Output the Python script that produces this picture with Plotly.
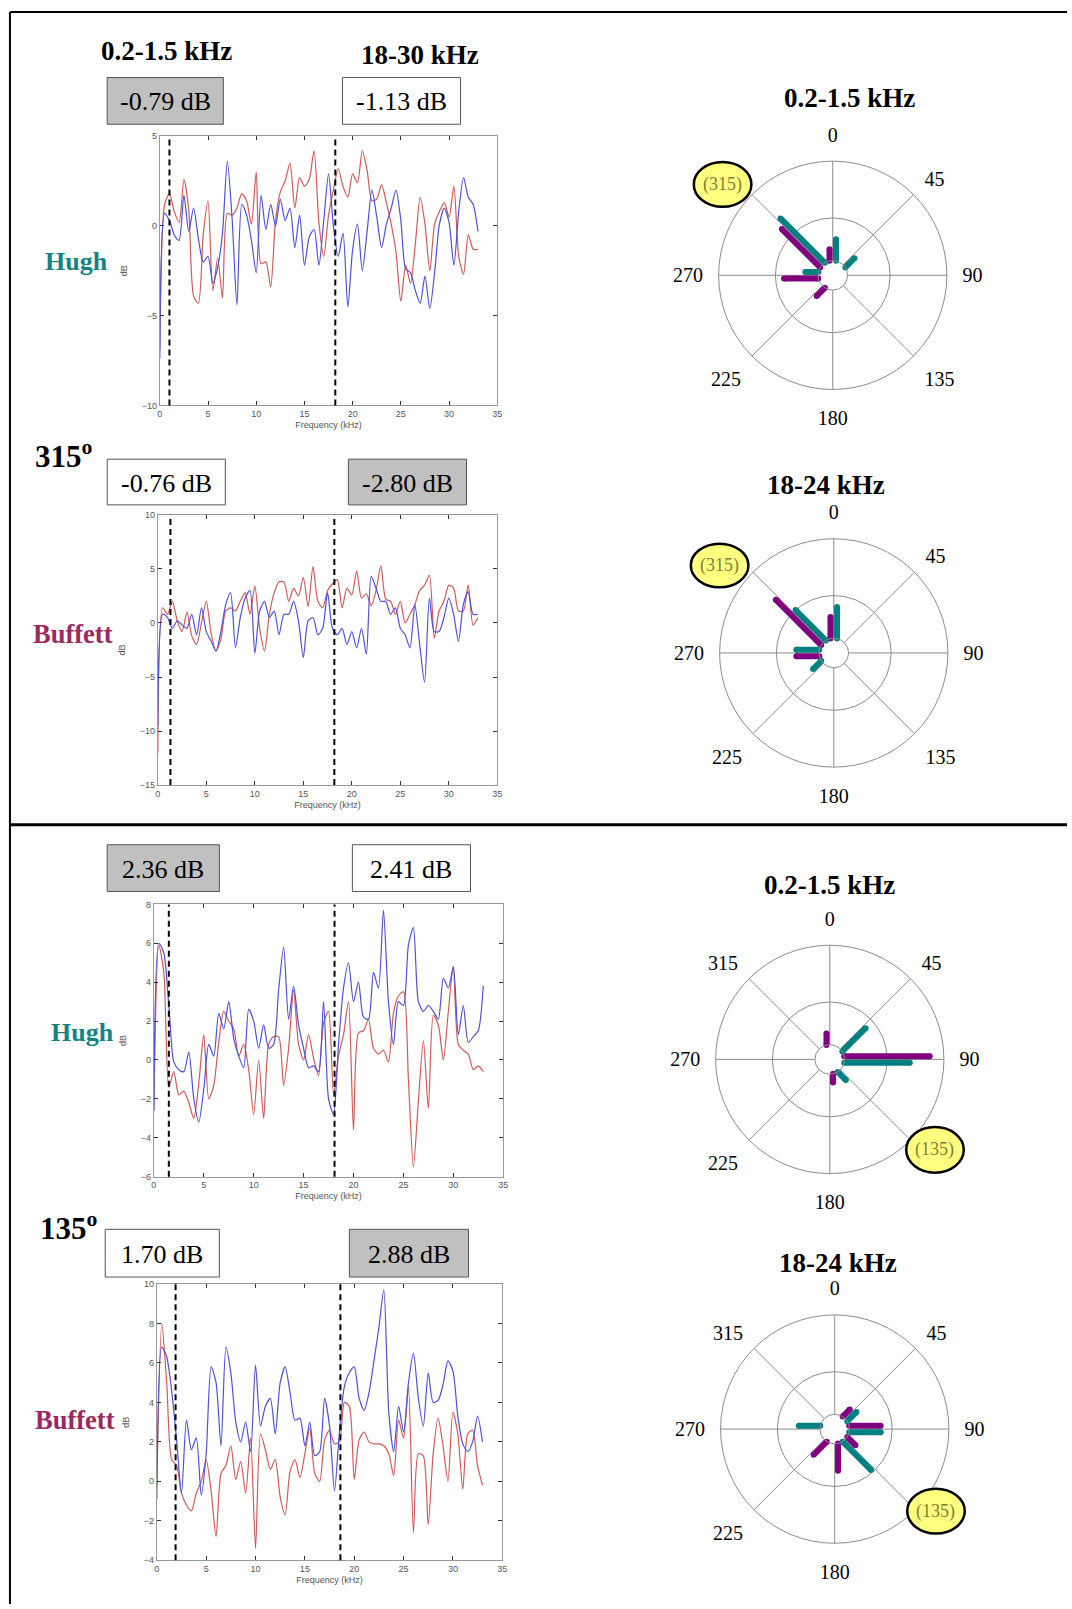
import math
import plotly.graph_objects as go

W, H = 1072, 1609

# shared frequency grid of the spectra (kHz)
freq = [i * 0.5 for i in range(67)]

# spectra, source at 315 deg (dB)
hugh_315_blue = [-7.4, 0.7, 0.3, -0.5, -0.8, 1.7, -0.3, 1.0, -0.7, -2.0, -1.7, -3.2, -2.3, -0.4, 3.6, 0.4, -4.4,
                 1.2, 0.6, -0.8, -2.6, 1.7, -0.2, 1.2, 0.0, 1.5, 0.3, 1.0, -1.2, 0.6, -2.2, -0.6, -0.2, -2.2, 0.3,
                 2.9, 0.0, -1.7, -0.4, -4.5, -1.3, 0.1, -2.5, -0.3, 2.0, 0.5, -1.2, 0.1, 1.0, 2.0, 0.3, -2.4, -2.6,
                 -3.6, -4.3, -2.8, -4.6, -2.6, 0.1, 1.0, 0.2, -2.2, 0.8, 2.7, 1.6, 1.2, -0.3]
hugh_315_red = [-6.9, 1.2, 1.8, 0.8, 0.2, 2.6, 0.9, -3.9, -4.3, -0.5, 1.4, -3.6, -1.8, -4.0, 0.7, 0.6, 1.0, 1.8,
                1.4, 0.1, 3.0, -2.1, -2.0, -3.4, 0.3, 1.9, 2.5, 3.5, 1.0, 2.7, 2.2, 2.6, 4.2, 0.2, -1.7, 0.6, 2.0,
                3.2, 2.2, 1.6, 2.9, 2.4, 4.2, 3.1, 1.4, 1.5, 2.3, 1.3, 0.1, -1.5, -4.2, -2.2, -3.2, -1.0, 1.6, 0.1,
                -2.5, 0.1, 0.8, 1.3, 0.5, 2.2, -1.7, -2.7, -0.5, -1.3, -1.3]
buffett_315_blue = [-9.5, 0.8, 0.5, -0.5, 0.2, -0.2, -0.5, 0.8, -1.1, 1.4, -0.8, -1.7, -2.6, -0.8, 1.7, 2.8, -2.3,
                    0.5, 2.3, 3.0, -2.8, 1.1, 2.0, 0.5, 1.1, -1.1, 0.8, 0.8, 2.0, 0.2, -3.2, 0.2, 0.5, -1.1, -0.5,
                    2.8, -0.5, -1.1, -0.5, -2.0, -0.8, -2.3, -0.5, -2.9, 4.3, 3.2, 2.0, 2.0, 0.8, 1.4, -0.5, -1.1,
                    -2.3, 1.7, -2.0, -5.5, 2.3, -0.8, -0.8, 0.5, 2.3, 0.8, -1.7, 1.7, 2.9, 0.8, 0.8]
buffett_315_red = [-12.0, 1.4, 0.8, 2.0, 0.2, -0.8, 1.0, -1.2, -2.0, 0.0, 2.0, -1.0, -2.6, -1.5, 1.1, 1.4, 1.1, 2.0,
                   2.8, 0.8, 3.4, -0.5, -2.6, 0.8, 2.8, 3.8, 3.8, 2.0, 3.2, 2.5, 4.2, 1.5, 5.2, 2.0, 1.4, 3.0, 3.6,
                   4.0, 1.4, 3.2, 2.6, 4.8, 2.3, 2.7, 1.6, 3.0, 5.3, 2.2, 2.0, 0.8, 2.0, 0.0, 0.8, 1.7, 3.0, 3.5,
                   4.4, -1.4, 1.1, 2.0, 3.5, 3.2, 1.1, 1.1, 3.5, -0.2, 0.5]

# spectra, source at 135 deg (dB)
hugh_135_blue = [-2.6, 6.0, 5.5, 2.8, -0.1, -0.5, -0.6, 0.4, -2.0, -3.2, -1.5, 0.8, 0.2, 2.4, 1.6, 3.0, 1.1, 0.2,
                 -0.4, 2.6, 2.0, 0.6, 1.8, 0.6, 0.8, 3.6, 5.8, 2.1, 3.8, 1.8, 0.6, -0.4, -0.3, -0.6, 3.0, -2.0, -2.8,
                 0.8, 3.7, 5.0, 3.0, 4.0, 2.2, 2.1, 4.5, 3.7, 7.7, 3.0, 0.8, 3.0, 2.8, 5.9, 6.8, 3.0, 2.5, 2.8, 2.5,
                 2.1, 4.2, 3.7, 4.8, 1.3, 2.8, 0.9, 1.2, 1.5, 3.8]
hugh_135_red = [-2.6, 5.9, 4.5, -1.4, -0.6, -1.8, -1.6, -2.2, -3.0, -1.2, 1.3, -2.0, -1.3, 0.9, 2.5, 2.0, 1.6, 0.2,
                0.8, -0.5, -2.8, 0.0, -3.0, 0.8, 1.2, 1.2, -1.3, 0.6, 3.6, 0.8, 0.0, 1.3, 0.1, -0.8, 1.9, 2.5, -1.8,
                0.2, 1.3, 3.0, -3.6, 1.4, 1.5, 2.1, 0.6, 0.3, 0.5, -0.1, 2.4, 3.3, 3.5, -1.0, -5.5, -2.1, 1.0,
                -2.5, 2.3, 1.8, 0.0, 2.5, 4.8, 0.8, 0.5, 0.3, -0.5, -0.3, -0.6]
buffett_135_blue = [-0.9, 6.8, 6.3, 4.6, 2.1, -0.6, 3.1, 1.6, 2.2, -0.7, 1.4, 5.8, 5.0, 1.8, 6.8, 5.5, 3.0, 2.0,
                    3.0, 1.5, 5.9, 2.8, 3.8, 4.2, 2.4, 5.0, 5.8, 4.5, 3.1, 3.2, 1.8, 3.0, 1.3, 1.5, 4.2, 2.8, -0.5,
                    2.5, 4.8, 5.5, 5.8, 4.2, 3.6, 4.5, 6.1, 7.8, 9.7, 3.5, 1.5, 3.8, 2.5, 5.0, 6.5, 4.2, 2.8, 5.5,
                    4.0, 4.1, 4.9, 6.1, 5.6, 3.3, 1.9, 1.5, 2.0, 3.3, 2.0]
buffett_135_red = [-0.2, 8.0, 5.0, 1.1, 0.8, -0.6, -1.2, -1.5, -0.6, 0.0, 1.1, -0.5, -2.8, 0.4, 0.8, 1.8, 0.1, 1.0,
                   -0.6, 2.2, -3.4, 2.4, 1.6, 0.6, 1.1, -0.8, -1.7, 0.5, 1.1, 0.2, 1.4, 2.7, 0.4, 0.0, 2.1, 2.6, 1.9,
                   2.0, 4.0, 3.8, 0.1, 2.1, 2.5, 2.0, 1.9, 1.9, 1.8, 1.4, 0.3, 3.1, 2.2, 4.8, -2.6, 1.4, 1.3, -2.2,
                   1.4, 3.2, 1.8, 0.0, 3.5, 2.4, -0.4, 2.4, 2.6, 0.8, -0.2]

# dashed band markers (kHz)
band_edges = [[1.0, 18.2], [1.3, 18.2], [1.5, 18.1], [1.9, 18.6]]

# band level differences shown in the boxes
box_labels = ["-0.79 dB", "-1.13 dB", "-0.76 dB", "-2.80 dB", "2.36 dB", "2.41 dB", "1.70 dB", "2.88 dB"]
box_shaded = [True, False, False, True, True, False, False, True]

# polar bars: level per direction
directions = [0, 45, 90, 135, 180, 225, 270, 315]
low_315_hugh = [1.5, 0.9, 0, 0, 0, 0, 0.9, 4.4]
low_315_buffett = [0.8, 0, 0, 0, 0, 0.8, 2.4, 3.8]
high_315_hugh = [2.2, 0, 0, 0, 0, 0.8, 1.6, 3.0]
high_315_buffett = [1.5, 0, 0, 0, 0, 0, 1.6, 4.5]
low_135_hugh = [0, 2.3, 4.6, 0.8, 0, 0, 0, 0]
low_135_buffett = [0.8, 0, 6.0, 0, 0.6, 0, 0, 0]
high_135_hugh = [0, 0.9, 2.2, 2.8, 0, 0, 1.5, 0]
high_135_buffett = [0, 0.7, 2.2, 0.8, 1.9, 1.3, 0, 0]

TEAL = "#008080"
PURPLE = "#800080"
BLUE = "#5050d8"
RED = "#d25a5a"
SERIF = "Liberation Serif"
SANS = "Liberation Sans"

# polar geometry (px)
R = 115
HOLE = 0.13
RMAX = 7
HOLE_PX = R * HOLE
K = (R - HOLE_PX) / RMAX
OFF = 3.3


def xp(v):
    return v / W


def yp(v):
    return 1 - v / H


fig = go.Figure()

# ---- spectra panels ----
panels = [
    (hugh_315_blue, hugh_315_red, (158, 498, 132, 403), [-10, 5], 5),
    (buffett_315_blue, buffett_315_red, (156, 498, 513, 785), [-15, 10], 5),
    (hugh_135_blue, hugh_135_red, (152, 504, 905, 1179), [-6, 8], 2),
    (buffett_135_blue, buffett_135_red, (155, 503, 1287, 1565), [-4, 10], 2),
]
shapes = []
layout_axes = {}
for n, (blue, red, (x0, x1, y0, y1), yr, dt) in enumerate(panels, start=1):
    sx = "" if n == 1 else str(n)
    fig.add_trace(go.Scatter(x=freq, y=red, mode="lines",
                             line=dict(color=RED, width=1.2, shape="spline", smoothing=0.7),
                             xaxis="x" + sx, yaxis="y" + sx, showlegend=False))
    fig.add_trace(go.Scatter(x=freq, y=blue, mode="lines",
                             line=dict(color=BLUE, width=1.2, shape="spline", smoothing=0.7),
                             xaxis="x" + sx, yaxis="y" + sx, showlegend=False))
    small = dict(family=SANS, size=9, color="#555")
    layout_axes["xaxis" + sx] = dict(
        domain=[xp(x0), xp(x1)], anchor="y" + sx, range=[0, 35], dtick=5,
        ticks="inside", ticklen=4, tickcolor="#333", showline=True, mirror="ticks",
        linecolor="#9a9a9a", showgrid=False, zeroline=False, tickfont=small,
        title=dict(text="Frequency (kHz)", font=small, standoff=3))
    layout_axes["yaxis" + sx] = dict(
        domain=[yp(y1), yp(y0)], anchor="x" + sx, range=yr, dtick=dt,
        ticks="inside", ticklen=4, tickcolor="#333", showline=True, mirror="ticks",
        linecolor="#9a9a9a", showgrid=False, zeroline=False, tickfont=small,
        title=dict(text="dB", font=small, standoff=12))
    for e in band_edges[n - 1]:
        shapes.append(dict(type="line", xref="x" + sx, yref="y" + sx + " domain", x0=e, x1=e, y0=0, y1=1,
                           line=dict(color="black", width=2, dash="6px,4px")))


# ---- polar panels ----
def bar_trace(vals, side, color, sub):
    r, th = [], []
    for a, v in zip(directions, vals):
        if v <= 0:
            continue
        for rv in (0, v):
            rpx = HOLE_PX + rv * K
            r.append(rv)
            th.append(a + side * math.degrees(math.asin(OFF / rpx)))
        r.append(None)
        th.append(None)
    return go.Scatterpolar(r=r, theta=th, mode="lines+markers", subplot=sub, showlegend=False,
                           line=dict(color=color, width=6), marker=dict(color=color, size=6),
                           connectgaps=False, hoverinfo="skip")


polars = [
    ("polar", low_315_hugh, low_315_buffett, (836, 272), 315),
    ("polar2", high_315_hugh, high_315_buffett, (837, 652), 315),
    ("polar3", low_135_hugh, low_135_buffett, (833, 1061), 135),
    ("polar4", high_135_hugh, high_135_buffett, (838, 1433), 135),
]
for sub, hv, bv, (cx, cy), hi in polars:
    fig.add_trace(bar_trace(bv, -1, PURPLE, sub))
    fig.add_trace(bar_trace(hv, 1, TEAL, sub))
    layout_axes[sub] = dict(
        domain=dict(x=[xp(cx - R), xp(cx + R)], y=[yp(cy + R), yp(cy - R)]),
        hole=HOLE, bgcolor="white",
        radialaxis=dict(range=[0, RMAX], tickvals=[0, 3], showticklabels=False, ticks="",
                        showline=False, gridcolor="#8c8c8c", gridwidth=1),
        angularaxis=dict(rotation=90, direction="clockwise", tickvals=directions,
                         ticktext=["" if a == hi else str(a) for a in directions],
                         showgrid=True, gridcolor="#8c8c8c", showline=True, linecolor="#8c8c8c",
                         ticks="outside", ticklen=11, tickcolor="rgba(0,0,0,0)",
                         tickfont=dict(family=SERIF, size=20, color="black")),
    )

# ---- boxes with band differences ----
box_pos = [(105, 222, 73, 120), (342, 461, 73, 120), (105, 224, 457, 503), (348, 467, 457, 503),
           (105, 218, 845, 892), (352, 471, 845, 892), (103, 218, 1232, 1280), (349, 469, 1232, 1280)]
annotations = []


def note(x, y, text, size, color):
    annotations.append(dict(x=xp(x), y=yp(y), xref="paper", yref="paper", text=text, showarrow=False,
                            xanchor="center", yanchor="middle", font=dict(family=SERIF, size=size, color=color)))


for (x0, x1, y0, y1), lab, sh in zip(box_pos, box_labels, box_shaded):
    shapes.append(dict(type="rect", xref="paper", yref="paper", x0=xp(x0), x1=xp(x1), y0=yp(y1), y1=yp(y0),
                       fillcolor="#c0c0c0" if sh else "white", line=dict(color="#555", width=1), layer="below"))
    note((x0 + x1) / 2, (y0 + y1) / 2 + 1, lab, 26, "black")

# highlighted source direction
ellipses = [((696, 754, 158, 203), "(315)"), ((693, 751, 542, 586), "(315)"),
            ((910, 968, 1129, 1175), "(135)"), ((911, 969, 1493, 1538), "(135)")]
for (x0, x1, y0, y1), t in ellipses:
    shapes.append(dict(type="circle", xref="paper", yref="paper", x0=xp(x0), x1=xp(x1), y0=yp(y1), y1=yp(y0),
                       fillcolor="#ffff80", line=dict(color="black", width=2.5)))
    note((x0 + x1) / 2, (y0 + y1) / 2, t, 18, "#80803a")

# headings and labels
for x, y, t, s, c in [
    (165, 46, "<b>0.2-1.5 kHz</b>", 27, "black"),
    (420, 50, "<b>18-30 kHz</b>", 27, "black"),
    (853, 94, "<b>0.2-1.5 kHz</b>", 27, "black"),
    (829, 483, "<b>18-24 kHz</b>", 27, "black"),
    (833, 886, "<b>0.2-1.5 kHz</b>", 27, "black"),
    (841, 1266, "<b>18-24 kHz</b>", 27, "black"),
    (74, 258, "<b>Hugh</b>", 26, "#15837f"),
    (71, 633, "<b>Buffett</b>", 26.5, "#9b2a60"),
    (80, 1034, "<b>Hugh</b>", 26, "#15837f"),
    (73, 1424, "<b>Buffett</b>", 26.5, "#9b2a60"),
    (61, 452, "<b>315<sup>o</sup></b>", 31, "black"),
    (66, 1229, "<b>135<sup>o</sup></b>", 31, "black"),
]:
    note(x, y, t, s, c)

# outer frame
for x0, y0, x1, y1, w in [(7, 7, W, 7, 2), (7, 7, 7, H, 2), (7, 825, W, 825, 3)]:
    shapes.append(dict(type="line", xref="paper", yref="paper", x0=xp(x0), x1=xp(x1), y0=yp(y0), y1=yp(y1),
                       line=dict(color="black", width=w)))

fig.update_layout(
    width=W, height=H, margin=dict(l=0, r=0, t=0, b=0),
    paper_bgcolor="white", plot_bgcolor="white",
    shapes=shapes, annotations=annotations, **layout_axes,
)

fig.write_html("out.html", config={"displayModeBar": False},
               post_script="document.body.style.margin='0';")
